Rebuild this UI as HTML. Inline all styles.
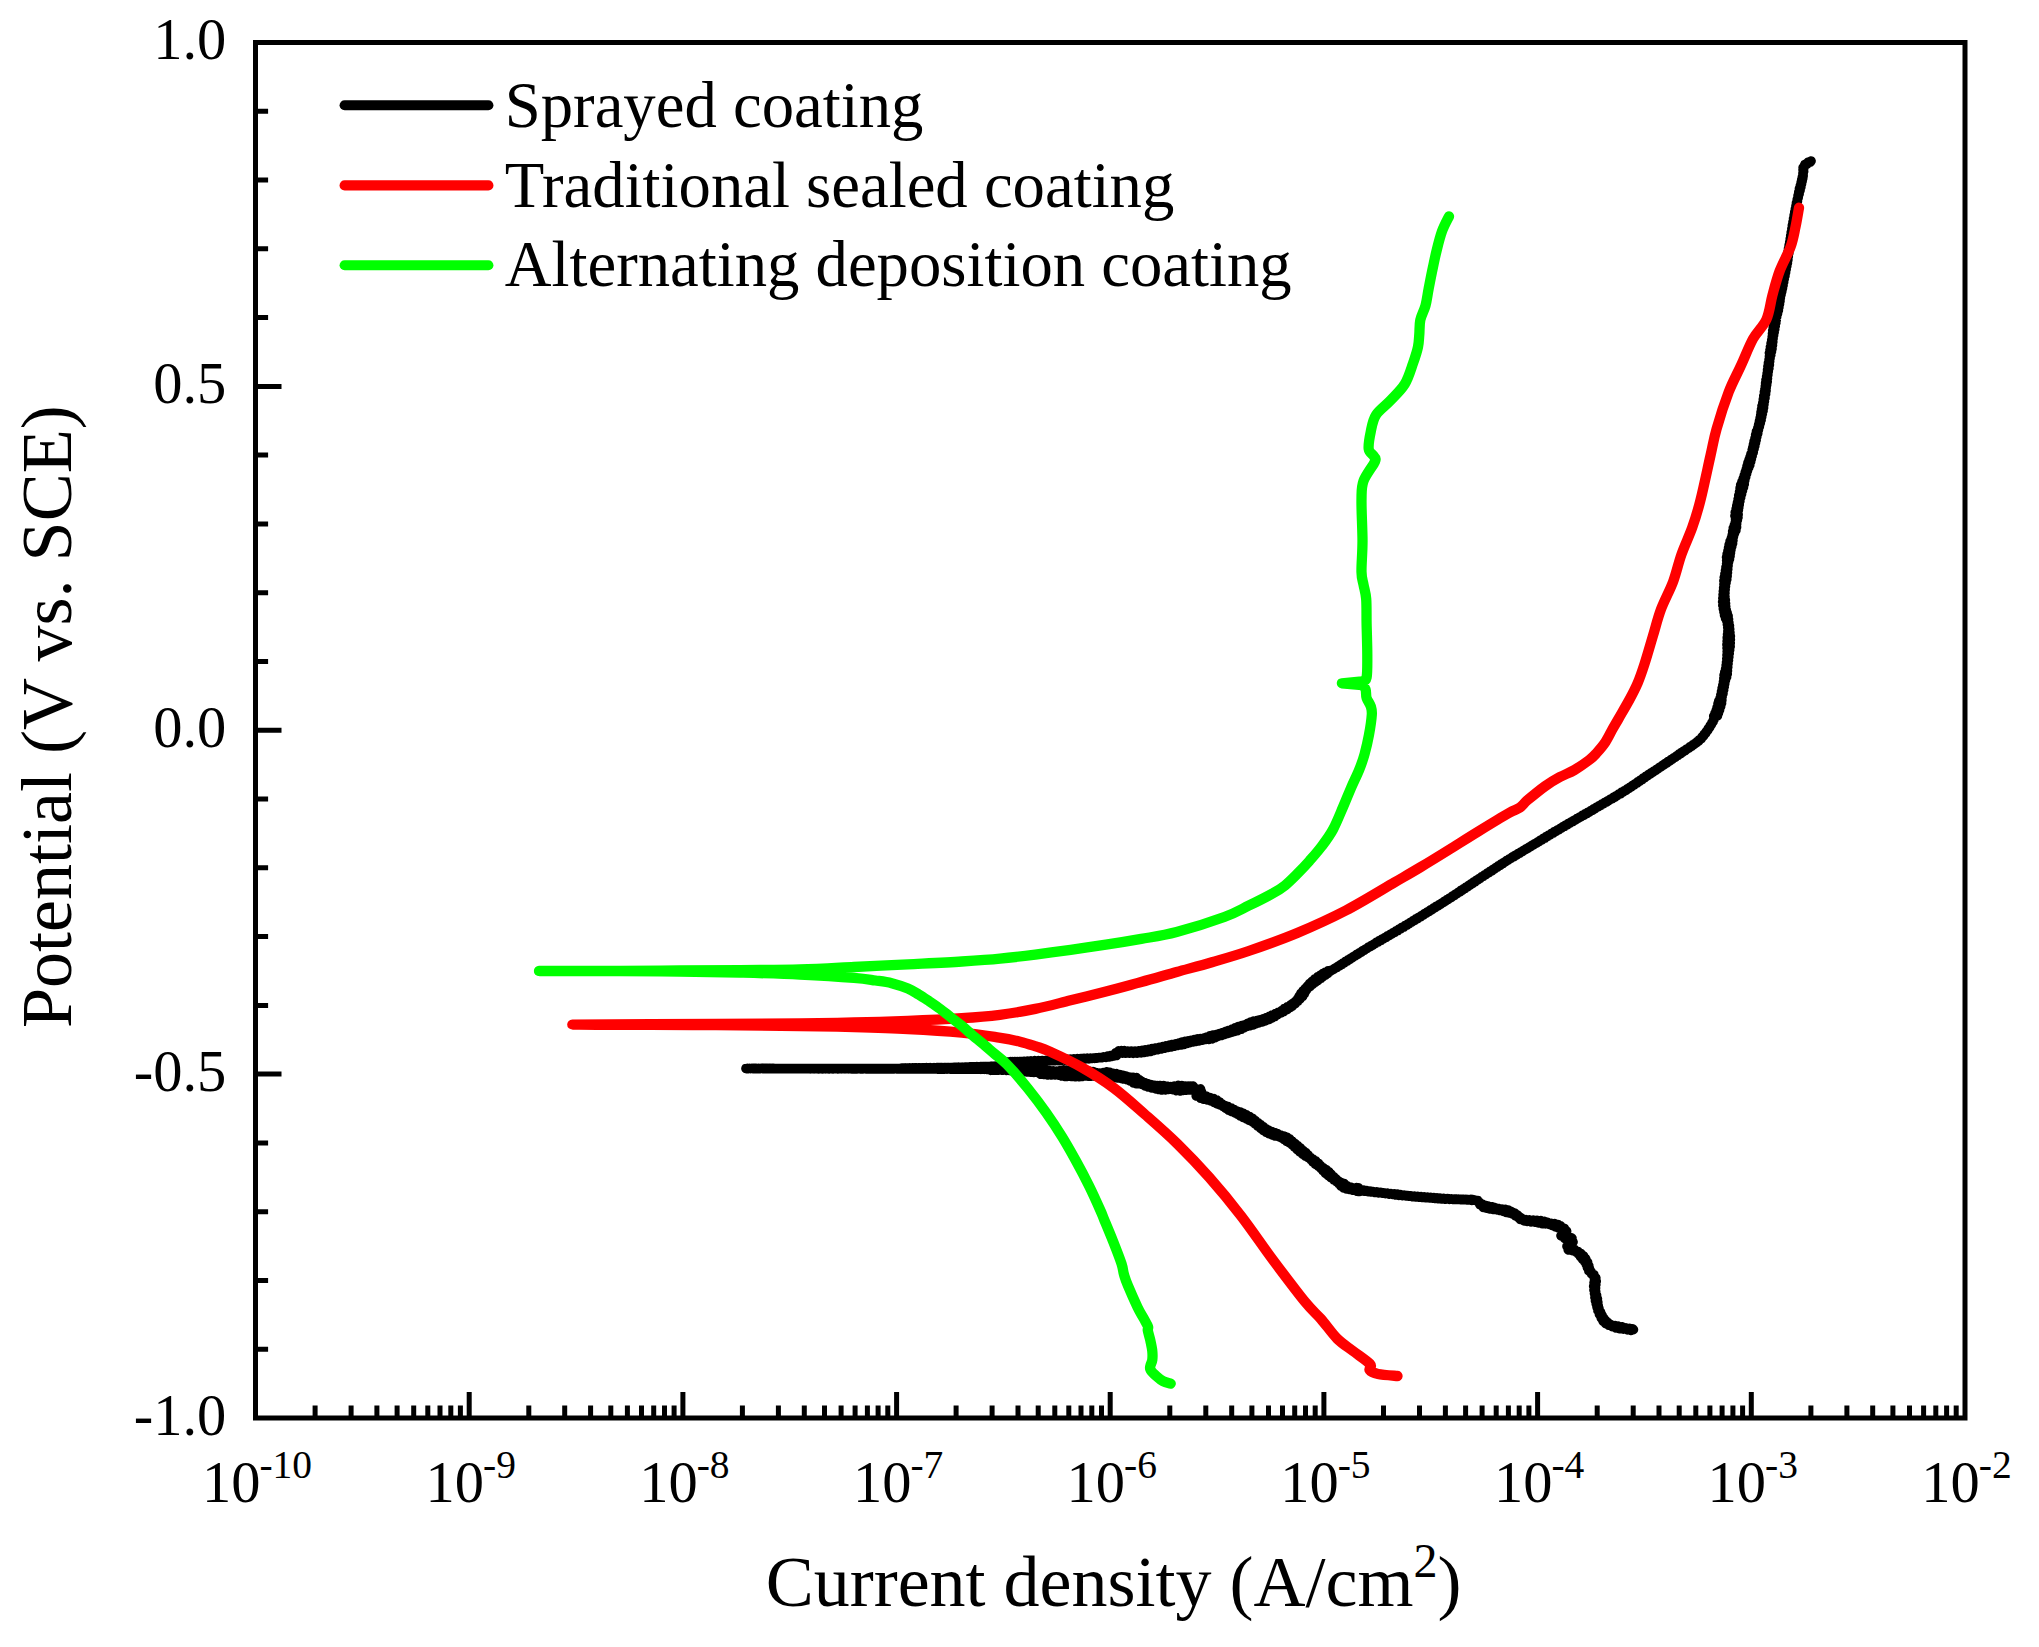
<!DOCTYPE html>
<html lang="en"><head><meta charset="utf-8"><title>Polarization curves</title>
<style>html,body{margin:0;padding:0;background:#fff}svg{display:block}text{font-family:"Liberation Serif","Times New Roman",serif;fill:#000}</style></head><body>
<svg width="2039" height="1647" viewBox="0 0 2039 1647">
<rect width="2039" height="1647" fill="#fff"/>
<g fill="none" stroke-width="10.3" stroke-linecap="round" stroke-linejoin="round">
<path stroke="#000" stroke-width="9.7" d="M1633.4 1329.6L1632.5 1328.9L1630.9 1330.3L1629.5 1328.5L1627.5 1329.7L1625.8 1327.9L1623.6 1329.1L1621.9 1326.9L1619.6 1328.7L1618.2 1326.0L1616.1 1327.9L1615.2 1325.6L1612.3 1326.6L1610.8 1324.6L1608.7 1325.0L1608.0 1322.9L1605.7 1323.5L1605.7 1320.8L1603.0 1321.0L1603.9 1318.4L1601.2 1317.8L1602.1 1315.4L1599.5 1314.5L1600.4 1312.0L1598.1 1310.8L1598.9 1308.5L1597.2 1307.3L1598.1 1305.5L1596.3 1304.1L1597.8 1302.3L1595.5 1300.9L1597.4 1298.8L1595.0 1297.4L1596.4 1295.2L1594.6 1293.6L1595.6 1291.5L1594.1 1289.9L1595.4 1288.0L1593.7 1286.2L1595.8 1284.7L1594.1 1282.7L1596.2 1281.3L1594.6 1279.7L1595.8 1278.0L1593.9 1276.9L1593.8 1274.7L1591.6 1274.1L1591.2 1271.8L1589.0 1270.9L1589.5 1268.8L1587.6 1267.7L1588.7 1265.5L1586.3 1264.5L1587.5 1262.1L1584.7 1261.5L1585.7 1258.9L1582.6 1259.2L1583.6 1256.0L1580.4 1256.5L1580.8 1253.5L1578.2 1253.7L1578.0 1251.5L1576.1 1251.8L1574.7 1249.6L1572.3 1250.6L1570.5 1248.8L1568.3 1249.9L1568.5 1247.9L1567.0 1246.2L1570.1 1245.6L1569.7 1242.4L1573.0 1241.9L1570.7 1240.5L1571.9 1238.0L1568.9 1239.8L1567.8 1236.2L1564.7 1238.4L1563.9 1235.2L1561.1 1235.9L1563.7 1234.8L1563.9 1231.8L1566.6 1231.3L1564.2 1230.8L1564.3 1228.3L1561.6 1228.9L1560.6 1225.9L1558.4 1227.8L1557.9 1224.5L1555.4 1226.9L1554.6 1223.7L1552.3 1225.5L1551.0 1223.4L1549.2 1224.2L1547.7 1222.5L1545.7 1223.8L1544.3 1221.3L1542.2 1223.7L1540.7 1220.6L1538.3 1222.9L1537.0 1220.4L1535.0 1222.1L1533.3 1220.2L1531.2 1221.7L1529.4 1219.9L1527.4 1221.3L1525.9 1219.7L1524.1 1220.8L1523.2 1219.2L1520.3 1219.5L1520.3 1217.3L1518.1 1217.2L1517.7 1215.2L1515.4 1215.6L1514.8 1213.2L1512.3 1213.9L1511.2 1211.4L1509.2 1213.0L1508.5 1210.2L1506.4 1212.4L1505.5 1209.4L1503.3 1211.5L1502.0 1209.1L1499.8 1210.4L1498.6 1208.6L1496.8 1209.8L1495.3 1207.7L1493.2 1209.4L1491.7 1206.8L1489.5 1208.8L1488.2 1206.1L1486.2 1208.1L1485.3 1205.4L1483.4 1207.4L1482.5 1204.3L1479.8 1204.5L1479.7 1202.5L1478.1 1201.9L1477.7 1200.6L1476.6 1200.7L1472.8 1199.6L1471.8 1200.3L1470.7 1199.5L1469.4 1200.0L1468.1 1199.5L1466.7 1199.8L1465.2 1199.4L1463.6 1199.7L1462.0 1199.3L1460.3 1199.6L1458.5 1199.2L1456.7 1199.5L1454.9 1199.0L1453.0 1199.4L1451.2 1198.9L1449.3 1199.3L1447.4 1198.6L1445.5 1199.2L1443.7 1198.3L1441.8 1199.0L1440.0 1198.1L1438.5 1198.7L1437.0 1197.9L1435.4 1198.4L1433.9 1197.6L1432.3 1198.1L1430.8 1197.4L1429.1 1197.9L1427.6 1197.2L1425.9 1197.7L1424.3 1196.9L1422.6 1197.5L1421.1 1196.7L1419.3 1197.2L1417.7 1196.4L1416.0 1196.9L1414.4 1196.1L1412.6 1196.6L1411.0 1195.8L1409.2 1196.2L1407.6 1195.5L1405.8 1195.9L1404.1 1195.1L1402.3 1195.6L1400.6 1194.6L1399.0 1195.3L1397.5 1194.2L1395.8 1194.9L1394.3 1193.9L1392.5 1194.5L1390.9 1193.5L1389.0 1194.1L1387.4 1193.2L1385.5 1193.6L1383.8 1192.8L1382.0 1193.1L1380.2 1192.3L1378.4 1192.8L1376.7 1191.9L1374.9 1192.4L1373.2 1191.5L1371.4 1192.0L1369.9 1191.1L1368.1 1191.6L1366.7 1190.6L1365.0 1191.2L1363.6 1190.2L1362.1 1190.9L1360.8 1189.8L1359.3 1191.5L1358.5 1187.9L1356.9 1191.1L1356.3 1187.7L1352.7 1190.2L1350.9 1187.3L1348.9 1189.3L1348.3 1186.9L1346.5 1188.9L1346.9 1185.7L1343.8 1188.0L1344.2 1183.7L1341.0 1186.1L1341.7 1182.7L1339.0 1183.8L1338.9 1181.4L1336.5 1181.7L1336.4 1179.2L1333.7 1179.8L1333.9 1176.9L1330.9 1177.6L1331.3 1174.4L1328.1 1175.4L1328.8 1171.8L1325.3 1173.2L1326.2 1169.6L1323.0 1170.7L1323.3 1167.8L1320.8 1168.2L1320.7 1165.7L1318.2 1166.1L1318.4 1163.3L1315.5 1164.2L1315.9 1161.1L1313.0 1162.0L1313.1 1159.2L1310.7 1159.6L1310.4 1157.3L1308.1 1157.5L1308.1 1155.0L1305.2 1155.9L1305.8 1152.6L1302.4 1154.0L1303.1 1150.4L1299.7 1151.8L1300.5 1148.1L1297.0 1149.5L1297.8 1145.8L1294.5 1147.1L1295.1 1143.6L1292.0 1144.8L1292.4 1141.4L1289.3 1142.8L1289.8 1139.1L1286.5 1141.2L1287.0 1137.2L1283.9 1139.4L1283.7 1136.0L1281.2 1137.7L1280.5 1135.0L1278.2 1136.6L1277.5 1133.7L1275.1 1135.9L1274.6 1132.5L1272.0 1135.0L1271.7 1131.5L1269.0 1133.7L1268.9 1130.4L1266.1 1132.2L1266.2 1128.8L1263.2 1130.3L1263.5 1126.9L1260.4 1128.2L1260.8 1124.9L1257.8 1126.0L1258.1 1122.8L1255.2 1123.8L1255.4 1120.6L1252.3 1121.8L1252.5 1118.3L1249.2 1120.3L1249.6 1116.5L1246.4 1118.9L1246.6 1114.9L1243.3 1117.5L1243.5 1113.4L1240.3 1116.0L1240.3 1112.1L1237.4 1114.2L1237.0 1111.0L1234.4 1112.7L1234.1 1109.5L1231.4 1111.4L1231.4 1108.1L1228.7 1110.2L1228.3 1106.7L1225.5 1108.1L1225.0 1105.5L1222.7 1106.2L1222.1 1104.0L1219.8 1104.9L1219.6 1102.0L1216.9 1103.8L1216.9 1100.2L1214.2 1102.4L1213.7 1098.7L1210.9 1101.0L1209.9 1097.5L1207.2 1099.9L1206.3 1096.2L1203.6 1099.1L1203.3 1095.0L1200.5 1098.1L1201.4 1094.2L1196.3 1095.9L1201.5 1091.7L1195.3 1091.9L1200.5 1089.0L1196.6 1090.8L1192.9 1086.1L1191.8 1090.0L1190.8 1086.2L1189.5 1090.0L1188.2 1086.0L1186.7 1090.2L1185.2 1086.0L1183.5 1090.4L1181.9 1085.6L1180.1 1090.8L1178.3 1085.4L1176.4 1090.6L1174.6 1086.1L1172.7 1089.6L1170.9 1086.7L1169.0 1089.3L1167.2 1086.3L1165.3 1089.8L1163.8 1085.6L1161.8 1090.0L1160.5 1085.5L1158.6 1089.4L1157.6 1085.7L1155.8 1088.8L1154.4 1085.3L1151.8 1088.0L1150.8 1084.5L1148.2 1086.9L1147.5 1083.6L1145.0 1085.8L1144.5 1082.5L1142.1 1084.5L1141.7 1081.4L1139.1 1083.7L1139.2 1079.5L1136.1 1083.6L1136.5 1077.7L1133.3 1082.8L1133.0 1077.3L1130.1 1080.9L1129.4 1077.1L1126.9 1079.7L1126.1 1076.2L1123.7 1079.0L1123.0 1075.3L1120.6 1078.3L1119.7 1074.5L1117.3 1077.9L1116.4 1073.7L1114.0 1077.7L1113.1 1073.3L1110.8 1077.8L1109.9 1072.4L1107.6 1078.3L1106.7 1071.9L1104.4 1077.8L1103.1 1072.7L1100.9 1076.4L1099.2 1073.2L1096.9 1075.9L1095.7 1072.5L1094.2 1076.1L1093.0 1071.7L1091.4 1076.1L1090.1 1071.4L1088.5 1076.1L1087.1 1071.1L1085.4 1076.0L1084.0 1070.9L1082.2 1076.4L1080.7 1070.4L1078.9 1076.7L1077.3 1070.3L1075.3 1076.6L1073.7 1070.3L1071.5 1076.5L1069.8 1070.2L1067.5 1076.4L1066.5 1070.0L1064.7 1076.3L1063.5 1069.9L1061.6 1076.0L1060.3 1070.5L1058.3 1075.1L1056.9 1071.1L1054.9 1074.8L1053.4 1070.9L1051.4 1074.9L1049.9 1070.6L1047.8 1074.8L1046.3 1070.4L1044.2 1074.5L1042.7 1070.2L1040.6 1074.2L1039.1 1070.8L1037.3 1072.3L1035.7 1070.3L1033.9 1072.3L1032.4 1070.0L1030.6 1072.1L1029.2 1069.8L1027.6 1072.0L1026.3 1069.6L1024.8 1071.7L1023.6 1069.7L1021.3 1071.0L1019.4 1069.7L1017.6 1070.7L1016.2 1069.5L1014.7 1070.5L1013.5 1069.3L1012.1 1070.4L1010.9 1069.2L1009.5 1070.3L1008.1 1069.1L1006.4 1070.3L1004.6 1069.0L1002.4 1070.2L1000.0 1068.9L998.8 1070.1L997.5 1068.9L996.2 1070.2L994.8 1068.7L993.4 1070.2L992.0 1068.6L990.5 1070.2L989.0 1069.1L987.4 1069.4L985.8 1069.1L984.2 1069.3L982.6 1069.1L980.9 1069.3L979.2 1069.1L977.5 1069.2L975.8 1069.0L974.1 1069.2L972.3 1069.0L970.6 1069.2L968.8 1069.0L967.1 1069.2L965.3 1068.9L963.6 1069.2L961.8 1068.9L960.1 1069.1L958.4 1068.9L956.6 1069.1L955.0 1068.9L953.3 1069.1L951.6 1068.9L950.0 1069.1L948.4 1068.8L947.0 1069.1L945.6 1068.8L944.3 1069.2L943.1 1068.8L941.9 1069.1L940.8 1068.8L939.7 1069.1L938.6 1068.8L937.5 1069.1L936.5 1068.7L935.4 1069.0L934.3 1068.7L933.2 1069.0L932.1 1068.7L930.9 1069.0L929.6 1068.7L928.3 1069.0L926.9 1068.7L925.4 1069.0L923.8 1068.7L922.1 1069.0L920.3 1068.6L918.3 1068.9L916.2 1068.7L914.0 1068.9L911.5 1068.7L908.9 1068.9L906.2 1068.6L903.2 1068.9L900.0 1068.6L898.9 1068.9L897.8 1068.6L896.6 1068.9L895.4 1068.6L894.2 1068.9L892.9 1068.6L891.6 1068.9L890.3 1068.6L889.0 1068.9L887.6 1068.6L886.1 1068.9L884.7 1068.6L883.2 1068.9L881.7 1068.6L880.1 1068.9L878.6 1068.6L877.0 1068.9L875.4 1068.6L873.7 1068.9L872.1 1068.6L870.4 1068.9L868.7 1068.6L866.9 1068.9L865.2 1068.6L863.4 1068.8L861.7 1068.7L859.9 1068.8L858.1 1068.6L856.2 1068.9L854.4 1068.6L852.5 1068.9L850.7 1068.6L848.8 1068.8L846.9 1068.6L845.0 1068.8L843.1 1068.6L841.2 1068.8L839.3 1068.6L837.3 1068.8L835.4 1068.6L833.5 1068.8L831.5 1068.6L829.6 1068.8L827.6 1068.6L825.7 1068.8L823.8 1068.6L821.8 1068.8L819.9 1068.6L817.9 1068.8L816.0 1068.6L814.1 1068.8L812.1 1068.5L810.2 1068.8L808.3 1068.5L806.4 1068.7L804.5 1068.6L802.6 1068.7L800.8 1068.6L798.9 1068.7L797.0 1068.6L795.2 1068.7L793.4 1068.5L791.6 1068.7L789.8 1068.5L788.0 1068.7L786.2 1068.5L784.5 1068.7L782.8 1068.5L781.1 1068.6L779.4 1068.5L777.7 1068.6L776.1 1068.5L774.5 1068.6L772.9 1068.4L771.4 1068.6L769.8 1068.4L768.3 1068.6L766.8 1068.4L765.4 1068.6L764.0 1068.4L762.6 1068.6L761.2 1068.3L759.9 1068.7L758.6 1068.3L757.3 1068.7L756.1 1068.3L754.9 1068.6L753.8 1068.3L752.7 1068.6L751.6 1068.4L750.6 1068.6L749.6 1068.4L748.6 1068.6L747.7 1068.4L746.8 1068.6L746.0 1068.5L900.9 1068.3L901.8 1068.0L902.9 1068.2L904.0 1068.1L905.2 1068.2L906.5 1068.0L907.9 1068.2L909.4 1067.9L910.9 1068.2L912.4 1067.9L914.1 1068.2L915.7 1067.8L917.4 1068.2L919.2 1067.8L921.0 1068.2L922.8 1067.8L924.6 1068.1L926.5 1067.7L928.4 1068.1L930.2 1067.7L932.1 1068.0L934.0 1067.7L935.9 1068.0L937.7 1067.6L939.6 1067.9L941.4 1067.6L943.2 1067.8L944.9 1067.6L946.7 1067.8L948.4 1067.5L950.0 1067.7L951.6 1067.5L953.3 1067.7L955.0 1067.3L956.8 1067.6L958.6 1067.2L960.4 1067.5L962.2 1067.2L964.0 1067.4L965.9 1067.1L967.8 1067.3L969.6 1066.9L971.5 1067.2L973.3 1066.8L975.2 1067.1L977.0 1066.7L978.8 1067.0L980.5 1066.6L982.3 1066.9L984.0 1066.5L985.7 1066.8L987.3 1066.5L988.9 1066.7L990.4 1066.4L991.8 1066.6L993.2 1066.3L994.5 1066.5L995.8 1066.2L997.0 1066.5L998.1 1066.1L999.1 1066.4L1000.0 1065.7L1005.0 1066.3L1003.5 1065.4L1005.8 1064.2L1006.6 1062.3L1006.3 1062.5L1010.4 1061.7L1011.4 1062.2L1012.4 1061.7L1013.5 1062.1L1014.8 1061.6L1016.1 1062.1L1017.5 1061.6L1019.0 1062.0L1020.6 1061.5L1022.2 1061.9L1023.9 1061.4L1025.6 1061.7L1027.4 1061.2L1029.2 1061.7L1031.0 1060.9L1032.9 1061.7L1034.7 1060.7L1036.6 1061.6L1038.5 1060.6L1040.4 1061.4L1042.3 1060.5L1044.2 1061.2L1046.0 1060.4L1047.8 1060.9L1049.6 1060.3L1051.3 1060.7L1053.0 1060.0L1054.6 1060.7L1056.3 1059.7L1058.0 1060.5L1059.7 1059.5L1061.4 1060.4L1063.1 1059.3L1065.0 1060.2L1066.7 1059.2L1068.5 1060.0L1070.3 1059.0L1072.1 1059.7L1073.8 1058.8L1075.6 1059.5L1077.3 1058.7L1079.1 1059.2L1080.8 1058.5L1082.5 1059.0L1084.1 1058.3L1085.8 1058.9L1087.3 1058.2L1088.9 1058.8L1090.4 1058.1L1091.8 1058.5L1093.2 1058.0L1094.6 1058.3L1095.8 1057.8L1097.0 1058.1L1099.5 1057.5L1101.8 1057.6L1103.9 1056.9L1105.9 1057.3L1107.5 1056.2L1109.2 1056.9L1110.5 1055.7L1112.0 1056.3L1113.0 1055.2L1114.2 1055.7L1115.0 1054.7L1116.7 1055.4L1115.7 1052.7L1118.1 1052.7L1118.6 1050.9L1119.8 1052.8L1121.2 1050.7L1122.6 1053.1L1124.2 1050.7L1125.8 1053.2L1127.6 1051.0L1129.4 1053.1L1131.3 1051.4L1133.2 1053.1L1135.2 1051.3L1137.2 1053.2L1139.0 1050.8L1141.1 1052.9L1142.3 1050.4L1144.2 1052.5L1145.4 1049.9L1147.5 1051.9L1148.7 1049.3L1150.9 1051.3L1152.1 1048.5L1154.3 1050.3L1155.7 1048.1L1157.8 1049.6L1159.1 1047.4L1161.3 1048.9L1162.6 1046.7L1164.7 1048.2L1165.9 1045.9L1167.9 1047.5L1169.0 1045.2L1170.9 1046.9L1172.3 1044.5L1174.5 1046.1L1175.7 1043.9L1177.8 1045.4L1178.9 1043.0L1181.0 1044.9L1181.9 1042.1L1184.0 1044.4L1184.9 1041.4L1187.0 1043.5L1188.0 1040.9L1189.9 1042.6L1191.0 1040.4L1193.0 1042.0L1194.2 1039.6L1196.2 1041.5L1197.3 1038.9L1199.3 1040.9L1200.5 1038.5L1202.4 1040.1L1203.6 1038.1L1205.5 1039.5L1206.7 1037.0L1208.8 1039.4L1209.7 1035.8L1212.0 1038.8L1212.8 1035.1L1215.1 1037.6L1216.0 1034.7L1218.3 1036.3L1219.3 1033.7L1221.7 1035.4L1222.6 1032.6L1225.1 1034.3L1225.9 1031.4L1228.4 1033.3L1229.2 1030.3L1231.7 1032.3L1232.3 1029.1L1234.7 1031.3L1235.1 1027.9L1237.5 1030.6L1238.3 1026.6L1241.2 1029.2L1241.7 1025.6L1244.0 1027.7L1244.6 1024.8L1246.8 1026.5L1247.6 1023.4L1250.4 1025.6L1250.7 1022.0L1253.1 1024.9L1253.6 1021.2L1255.9 1023.9L1256.7 1020.7L1258.9 1022.8L1259.8 1019.9L1262.2 1021.9L1263.0 1018.9L1265.7 1020.8L1266.4 1017.7L1269.2 1019.3L1269.5 1016.3L1272.0 1018.0L1272.2 1015.0L1274.8 1016.5L1275.3 1013.7L1277.7 1014.5L1278.5 1012.4L1280.8 1012.8L1281.6 1010.5L1284.0 1011.3L1284.4 1008.5L1287.1 1009.6L1287.4 1006.8L1289.9 1007.7L1290.2 1005.2L1292.5 1005.9L1292.6 1003.6L1295.1 1003.8L1295.4 1001.5L1297.6 1001.2L1297.7 999.0L1300.1 998.8L1299.3 996.1L1302.6 996.5L1300.9 993.3L1304.3 993.9L1303.0 991.0L1305.7 991.1L1305.1 988.8L1307.4 988.9L1307.4 986.1L1310.1 986.4L1309.7 983.5L1312.6 984.3L1312.1 981.3L1315.1 982.4L1314.7 979.0L1318.0 980.4L1317.9 976.7L1320.7 978.4L1320.3 975.2L1322.9 976.7L1322.7 973.7L1325.3 975.1L1325.3 972.3L1327.8 973.5L1328.1 970.8L1330.3 971.3L1331.6 970.1L1333.4 969.5L1334.8 968.2L1336.7 967.5L1338.3 966.1L1339.6 965.7L1340.6 964.7L1342.0 964.3L1343.0 963.1L1344.5 962.7L1345.5 961.5L1347.1 961.1L1348.2 959.8L1349.7 959.3L1350.9 958.2L1352.5 957.5L1353.7 956.4L1355.3 955.7L1356.6 954.5L1358.3 954.0L1359.5 952.7L1361.2 952.1L1362.5 950.9L1364.1 950.3L1365.5 949.1L1367.1 948.4L1368.4 947.3L1370.1 946.6L1371.2 945.6L1372.7 945.1L1373.9 944.0L1375.4 943.5L1376.5 942.3L1378.1 942.0L1379.2 940.8L1380.8 940.4L1381.9 939.2L1383.5 938.8L1384.7 937.6L1386.3 937.2L1387.4 936.0L1389.1 935.6L1390.3 934.4L1391.9 933.9L1393.1 932.7L1394.8 932.3L1396.0 931.0L1397.7 930.6L1398.9 929.3L1400.6 928.9L1401.8 927.5L1403.6 927.1L1404.9 925.7L1406.6 925.2L1407.7 924.1L1409.2 923.6L1410.4 922.4L1411.9 922.0L1413.1 920.7L1414.7 920.3L1415.9 919.0L1417.6 918.5L1418.8 917.3L1420.5 916.7L1421.7 915.5L1423.4 914.9L1424.6 913.6L1426.3 913.1L1427.6 911.8L1429.2 911.3L1430.5 910.0L1432.2 909.5L1433.4 908.2L1435.0 907.7L1436.2 906.4L1437.9 905.9L1439.0 904.7L1440.6 904.1L1441.8 903.0L1443.3 902.5L1444.4 901.3L1445.9 900.8L1446.9 899.7L1448.4 899.3L1449.3 898.2L1451.2 897.5L1452.5 896.1L1454.3 895.5L1455.4 894.1L1457.2 893.6L1458.3 892.2L1459.9 891.8L1461.0 890.5L1462.6 890.0L1463.6 888.8L1465.1 888.3L1466.1 887.1L1467.6 886.7L1468.6 885.4L1470.1 885.0L1471.1 883.7L1472.6 883.4L1473.6 882.0L1475.1 881.7L1476.1 880.4L1477.7 879.9L1478.8 878.7L1480.4 878.1L1481.6 876.9L1483.2 876.3L1484.4 875.1L1486.0 874.5L1487.2 873.2L1488.9 872.7L1490.0 871.4L1491.7 870.9L1492.8 869.5L1494.5 869.1L1495.6 867.7L1497.3 867.2L1498.4 865.9L1500.0 865.4L1501.2 864.1L1502.8 863.5L1504.0 862.3L1505.5 861.6L1506.8 860.5L1508.3 859.9L1509.6 858.8L1511.1 858.1L1512.4 857.0L1514.0 856.5L1515.2 855.3L1516.8 854.8L1518.0 853.6L1519.6 853.1L1520.8 852.0L1522.4 851.4L1523.7 850.4L1525.2 849.7L1526.4 848.7L1528.0 848.1L1529.2 847.0L1530.8 846.4L1532.0 845.3L1533.6 844.7L1534.9 843.7L1536.4 843.1L1537.6 842.0L1539.2 841.4L1540.4 840.2L1542.0 839.8L1543.2 838.5L1544.8 838.1L1546.0 836.8L1547.6 836.4L1548.7 835.1L1550.4 834.7L1551.5 833.4L1553.2 833.0L1554.3 831.7L1556.0 831.3L1557.2 830.1L1558.8 829.6L1560.0 828.5L1561.6 827.9L1562.8 826.8L1564.4 826.4L1565.6 825.1L1567.2 824.7L1568.4 823.5L1570.0 823.1L1571.2 821.9L1572.8 821.5L1574.0 820.3L1575.6 819.8L1576.9 818.7L1578.4 818.2L1579.6 817.1L1581.2 816.6L1582.4 815.4L1584.1 815.1L1585.2 813.8L1586.9 813.5L1588.0 812.2L1589.7 811.9L1590.8 810.6L1592.4 810.2L1593.6 809.0L1595.2 808.5L1596.4 807.4L1598.0 806.8L1599.2 805.7L1600.8 805.3L1602.0 804.0L1603.7 803.7L1604.8 802.4L1606.5 802.0L1607.7 800.8L1609.2 800.3L1610.5 799.1L1612.1 798.6L1613.3 797.5L1614.9 797.0L1616.1 795.8L1617.7 795.3L1618.9 794.0L1620.6 793.7L1621.7 792.3L1623.4 791.9L1624.5 790.6L1626.2 790.2L1627.2 788.9L1628.8 788.4L1629.9 787.2L1631.5 786.6L1632.6 785.5L1634.1 784.8L1635.3 783.7L1636.8 783.1L1637.9 781.9L1639.5 781.3L1640.6 780.0L1642.1 779.5L1643.2 778.2L1644.8 777.7L1645.9 776.4L1647.5 775.8L1648.6 774.6L1650.1 774.0L1651.3 772.8L1652.8 772.2L1654.0 771.1L1655.5 770.4L1656.7 769.3L1658.2 768.6L1659.4 767.4L1661.0 766.7L1662.3 765.5L1663.9 764.8L1665.2 763.5L1666.8 762.9L1668.0 761.6L1669.7 761.0L1670.9 759.7L1672.5 759.0L1673.8 757.8L1675.3 757.1L1676.5 756.0L1677.9 755.4L1679.0 754.2L1680.5 753.7L1681.4 752.6L1682.8 752.1L1683.7 751.1L1684.9 750.7L1686.6 749.1L1688.6 748.2L1690.0 746.9L1691.6 746.1L1692.8 745.0L1694.1 744.4L1695.2 743.3L1696.4 742.7L1697.3 741.6L1698.6 741.0L1699.4 739.8L1701.1 738.7L1702.1 737.0L1703.6 735.9L1704.3 734.3L1705.7 733.1L1706.4 731.5L1707.7 730.3L1708.3 728.7L1709.6 727.4L1710.3 725.7L1711.4 724.4L1712.0 722.8L1713.1 721.4L1713.6 719.6L1714.8 718.1L1713.8 716.1L1717.4 716.0L1715.0 713.4L1718.4 713.1L1716.2 710.5L1719.5 709.9L1717.1 707.4L1720.6 706.5L1718.0 703.8L1721.5 703.2L1718.8 701.1L1721.8 700.1L1720.1 698.1L1722.0 696.8L1721.0 694.8L1722.8 693.4L1721.6 691.4L1723.6 690.1L1722.2 688.1L1724.2 686.8L1722.9 685.0L1724.6 683.8L1723.6 681.7L1725.4 680.3L1723.9 678.3L1726.5 677.2L1724.1 675.1L1727.2 674.0L1724.8 672.0L1727.4 670.7L1725.7 668.7L1727.7 667.1L1726.2 665.3L1728.0 663.9L1726.7 662.1L1728.3 660.5L1727.0 658.6L1728.8 657.0L1727.0 655.1L1729.2 653.5L1727.2 651.6L1729.6 650.0L1727.1 648.1L1730.1 646.5L1727.0 644.6L1730.2 643.1L1727.2 641.2L1730.3 639.6L1727.3 637.7L1730.3 636.2L1727.6 634.3L1729.9 632.7L1727.9 631.0L1729.7 629.2L1727.8 627.6L1729.4 625.7L1727.6 624.4L1728.8 622.5L1726.9 621.3L1728.5 619.3L1725.6 618.3L1728.1 616.0L1724.6 615.2L1727.1 612.9L1724.0 611.9L1726.2 609.8L1723.4 608.7L1725.7 606.7L1722.9 605.4L1725.5 603.4L1722.7 601.8L1725.3 600.0L1722.9 598.3L1724.9 596.6L1723.3 594.8L1724.8 593.1L1723.5 591.3L1725.0 589.7L1723.8 587.9L1725.3 586.3L1724.0 584.4L1726.0 582.9L1723.9 580.9L1726.7 579.5L1724.3 577.4L1727.1 576.1L1724.9 574.0L1727.4 572.6L1725.5 570.6L1727.7 569.2L1726.2 567.2L1727.9 565.7L1726.8 563.8L1728.5 562.4L1726.7 560.5L1729.4 559.3L1726.6 557.3L1730.0 556.1L1727.2 554.1L1730.4 552.9L1728.0 550.9L1730.9 549.8L1728.6 547.8L1731.7 546.6L1729.2 544.5L1732.5 543.5L1730.1 541.3L1732.9 540.3L1731.4 538.1L1733.3 536.8L1732.4 534.8L1734.4 533.5L1732.7 531.3L1735.8 530.4L1733.3 528.0L1736.5 527.2L1734.4 525.1L1736.6 524.1L1735.4 522.5L1737.1 520.6L1735.5 518.8L1737.9 517.4L1735.0 515.9L1738.1 514.5L1735.3 512.4L1738.3 510.4L1736.2 508.7L1738.7 507.7L1736.8 505.8L1739.2 504.6L1737.5 502.5L1739.8 501.2L1738.2 499.0L1740.6 497.7L1738.8 495.4L1741.5 494.1L1739.6 491.8L1742.4 490.6L1740.1 488.3L1743.4 487.4L1740.7 485.0L1744.2 484.1L1742.0 481.6L1744.7 480.6L1743.3 478.3L1745.6 477.2L1744.4 475.1L1746.5 474.0L1745.5 471.9L1747.4 470.8L1746.4 468.9L1748.6 467.9L1747.1 465.9L1749.7 465.2L1748.0 462.7L1750.6 461.7L1749.1 459.7L1751.3 458.9L1750.1 456.9L1752.1 456.0L1751.1 453.9L1753.1 452.4L1752.3 449.8L1754.0 448.9L1752.9 447.2L1754.7 446.2L1753.5 444.4L1755.4 443.2L1754.3 441.3L1756.0 440.1L1755.1 438.1L1756.7 436.7L1755.8 434.7L1757.6 433.4L1756.6 431.3L1758.4 429.9L1757.9 428.0L1759.3 426.6L1758.7 424.7L1760.2 423.2L1759.5 421.4L1761.0 420.0L1760.2 418.3L1761.6 416.9L1760.8 415.2L1762.2 413.9L1761.2 412.2L1763.0 410.9L1761.6 409.1L1763.5 407.8L1762.2 406.0L1763.8 404.6L1762.9 402.8L1764.3 401.3L1763.4 399.4L1764.9 397.8L1763.9 395.8L1765.5 394.1L1764.5 391.9L1765.9 390.7L1765.0 389.1L1766.1 387.8L1765.4 386.2L1766.6 384.8L1765.7 383.1L1767.1 381.6L1766.1 379.9L1767.4 378.4L1766.7 376.6L1767.8 375.0L1767.2 373.2L1768.2 371.6L1767.6 369.8L1768.8 368.3L1768.0 366.4L1769.3 364.8L1768.5 363.0L1769.6 361.4L1769.1 359.7L1770.0 358.1L1769.5 356.4L1770.7 354.9L1769.6 353.1L1771.4 351.8L1770.0 350.0L1771.8 348.7L1770.6 346.8L1772.3 345.3L1771.2 343.4L1772.7 341.9L1771.8 340.1L1773.0 338.6L1772.3 336.9L1773.5 335.4L1772.6 333.7L1774.0 332.3L1772.9 330.5L1774.5 329.2L1773.3 327.4L1775.2 326.1L1773.7 324.3L1775.8 323.0L1774.4 321.2L1776.1 319.9L1775.3 318.2L1776.6 316.8L1776.0 315.1L1777.4 313.7L1776.3 311.9L1778.3 310.6L1776.9 308.7L1778.8 307.4L1777.6 305.5L1779.3 304.2L1778.3 302.4L1779.9 301.1L1779.2 299.3L1780.3 297.9L1779.8 296.1L1781.0 294.7L1780.5 293.0L1781.7 291.6L1781.1 289.8L1782.4 288.4L1781.8 286.6L1783.0 285.3L1782.5 283.5L1783.6 282.1L1783.2 280.4L1784.2 278.9L1783.8 277.2L1784.9 275.8L1784.4 274.0L1785.5 272.6L1784.9 270.8L1786.1 269.4L1785.5 267.6L1786.7 266.2L1785.9 264.4L1787.3 263.0L1786.4 261.2L1787.8 259.8L1787.1 258.0L1788.2 256.6L1787.7 254.9L1788.7 253.4L1788.2 251.7L1789.3 250.2L1788.6 248.5L1790.0 247.0L1789.2 245.3L1790.5 243.8L1789.8 242.1L1791.0 240.7L1790.3 238.9L1791.5 237.4L1790.8 235.6L1792.0 234.1L1791.3 232.2L1792.5 230.7L1791.9 228.8L1792.9 227.2L1792.4 225.4L1793.4 223.8L1793.0 222.0L1794.0 220.4L1793.6 218.6L1794.5 217.1L1794.2 215.3L1795.0 213.8L1794.8 212.1L1795.6 210.6L1795.4 209.0L1796.2 207.5L1796.0 205.9L1796.8 204.5L1796.5 203.0L1797.4 201.2L1797.3 199.3L1798.2 197.5L1798.1 195.6L1799.1 194.0L1798.8 192.0L1800.0 190.5L1799.5 188.6L1800.8 187.2L1800.4 185.4L1801.5 184.0L1801.2 182.3L1802.1 181.1L1801.8 179.6L1802.7 178.4L1802.4 177.1L1803.1 176.1L1803.0 173.3L1803.6 171.4L1803.1 169.8L1803.6 168.7L1803.2 167.5L1804.3 166.6L1804.8 164.6L1807.0 164.1L1808.1 162.1L1810.2 162.1L1811.0 161.0"/>
<path stroke="#f00" d="M1397.5 1376.0C1394.2 1375.7 1382.6 1375.0 1378.0 1374.0C1373.4 1373.0 1371.0 1371.7 1369.7 1370.0C1368.4 1368.3 1372.8 1367.2 1370.0 1364.0C1367.2 1360.8 1358.5 1355.2 1353.0 1351.0C1347.5 1346.8 1342.3 1343.8 1337.0 1338.5C1331.7 1333.2 1326.3 1325.1 1321.0 1319.0C1315.7 1312.9 1313.0 1311.6 1305.0 1301.8C1297.0 1292.0 1283.7 1274.3 1273.0 1260.0C1262.3 1245.7 1251.6 1229.5 1241.0 1215.8C1230.4 1202.0 1220.0 1189.5 1209.4 1177.5C1198.8 1165.5 1188.1 1154.4 1177.5 1144.0C1166.9 1133.6 1156.2 1124.3 1145.6 1115.0C1135.0 1105.7 1124.4 1095.9 1113.8 1088.0C1103.2 1080.1 1092.6 1073.6 1082.0 1067.5C1071.4 1061.4 1057.7 1055.1 1050.0 1051.6C1042.3 1048.1 1040.8 1048.1 1035.8 1046.4C1030.8 1044.8 1026.1 1043.2 1020.0 1041.7C1013.9 1040.2 1008.7 1039.1 999.0 1037.6C989.3 1036.1 977.0 1034.0 961.8 1032.6C946.6 1031.2 925.9 1029.9 907.9 1029.0C889.9 1028.1 872.0 1027.6 854.0 1027.1C836.0 1026.6 823.0 1026.3 800.0 1026.0C777.0 1025.7 754.0 1025.4 716.0 1025.2C678.0 1025.0 572.3 1024.8 572.3 1024.6C572.3 1024.4 678.0 1024.2 716.0 1024.0C754.0 1023.8 777.0 1023.8 800.0 1023.5C823.0 1023.2 836.0 1022.9 854.0 1022.5C872.0 1022.1 889.9 1021.6 907.9 1020.9C925.9 1020.2 946.4 1019.2 961.8 1018.2C977.1 1017.2 987.8 1016.3 1000.0 1014.8C1012.2 1013.2 1023.5 1011.3 1035.3 1008.9C1047.1 1006.5 1058.8 1003.2 1070.6 1000.3C1082.4 997.4 1094.1 994.5 1105.9 991.5C1117.7 988.5 1129.4 985.2 1141.2 982.0C1153.0 978.8 1164.8 975.3 1176.6 972.0C1188.4 968.7 1199.9 965.7 1211.9 962.2C1223.9 958.7 1234.4 955.9 1248.6 951.0C1262.8 946.1 1281.0 939.8 1297.2 933.0C1313.4 926.2 1329.6 918.9 1345.8 910.5C1362.0 902.1 1381.9 889.7 1394.3 882.5C1406.7 875.3 1410.8 873.0 1420.0 867.5C1429.2 862.0 1439.6 855.6 1449.4 849.5C1459.2 843.4 1469.1 837.1 1478.9 831.1C1488.7 825.1 1501.5 817.3 1508.3 813.4C1515.1 809.5 1516.8 809.7 1520.0 807.5C1523.2 805.3 1523.2 803.8 1527.4 800.2C1531.6 796.7 1539.6 790.1 1545.0 786.2C1550.4 782.4 1554.9 779.8 1559.8 777.1C1564.7 774.4 1569.6 772.9 1574.5 770.0C1579.4 767.1 1585.5 762.8 1589.2 760.0C1592.9 757.2 1593.8 756.1 1596.5 753.1C1599.2 750.1 1602.7 746.2 1605.4 742.1C1608.1 738.0 1610.5 732.7 1612.7 728.8C1614.9 724.9 1615.8 723.5 1618.6 718.6C1621.4 713.7 1626.3 705.4 1629.5 699.5C1632.7 693.6 1635.2 688.9 1637.7 683.0C1640.2 677.1 1642.0 671.7 1644.5 664.0C1647.0 656.3 1650.0 645.7 1652.7 636.6C1655.5 627.5 1657.6 618.4 1661.0 609.3C1664.4 600.2 1669.6 591.1 1673.0 582.0C1676.4 572.9 1678.2 563.7 1681.4 554.6C1684.6 545.5 1689.1 536.4 1692.3 527.3C1695.5 518.2 1697.5 512.0 1700.5 500.0C1703.5 488.0 1707.8 467.4 1710.5 455.5C1713.2 443.6 1713.6 439.4 1716.6 428.8C1719.6 418.2 1724.7 402.5 1728.7 392.0C1732.8 381.5 1736.9 374.5 1740.9 365.6C1745.0 356.8 1748.8 346.6 1753.0 338.9C1757.2 331.2 1763.2 326.8 1766.4 319.5C1769.7 312.2 1770.3 303.1 1772.5 295.0C1774.7 286.9 1776.7 279.0 1779.7 270.9C1782.7 262.8 1788.1 253.9 1790.7 246.6C1793.3 239.3 1794.1 233.5 1795.5 227.0C1796.9 220.5 1798.4 210.9 1799.0 207.7"/>
<path stroke="#0f0" d="M1170.7 1383.6C1169.4 1383.2 1165.4 1382.4 1163.0 1381.2C1160.6 1380.0 1158.6 1378.2 1156.5 1376.3C1154.4 1374.4 1151.5 1371.5 1150.5 1369.7C1149.5 1367.9 1150.2 1367.0 1150.5 1365.4C1150.8 1363.8 1152.0 1362.3 1152.3 1359.9C1152.6 1357.5 1152.6 1354.4 1152.3 1351.1C1152.0 1347.8 1151.0 1343.7 1150.3 1340.2C1149.5 1336.8 1148.2 1332.7 1147.8 1330.4C1147.4 1328.1 1148.7 1328.6 1148.0 1326.6C1147.3 1324.6 1145.4 1321.6 1143.7 1318.4C1142.0 1315.2 1140.2 1312.9 1137.6 1307.4C1135.0 1301.9 1130.2 1291.1 1127.9 1285.6C1125.6 1280.1 1125.1 1278.2 1124.0 1274.6C1122.9 1270.9 1123.3 1269.2 1121.5 1263.7C1119.7 1258.2 1116.2 1249.2 1113.3 1241.9C1110.4 1234.6 1106.5 1225.3 1104.3 1220.0C1102.1 1214.7 1102.8 1215.7 1100.2 1210.0C1097.7 1204.3 1093.0 1193.8 1089.0 1185.7C1085.0 1177.6 1080.8 1169.5 1076.3 1161.4C1071.8 1153.3 1067.3 1145.2 1062.3 1137.1C1057.3 1129.0 1052.0 1121.0 1046.3 1112.9C1040.6 1104.8 1034.5 1096.7 1028.0 1088.6C1021.5 1080.5 1012.6 1070.3 1007.0 1064.5C1001.4 1058.7 998.4 1057.1 994.2 1053.5C990.0 1049.9 985.6 1046.0 982.0 1043.0C978.4 1040.0 976.0 1038.2 972.6 1035.3C969.2 1032.4 965.4 1028.8 961.8 1025.8C958.2 1022.8 954.6 1020.3 951.0 1017.5C947.4 1014.7 943.9 1011.7 940.3 1009.0C936.7 1006.3 933.1 1003.9 929.5 1001.5C925.9 999.1 922.3 996.6 918.7 994.5C915.1 992.4 912.4 990.5 907.9 988.6C903.4 986.7 897.1 984.6 891.7 983.2C886.3 981.9 881.8 981.4 875.5 980.5C869.2 979.6 866.6 978.8 854.0 977.8C841.4 976.8 819.0 975.4 800.0 974.5C781.0 973.6 760.0 973.1 740.0 972.6C720.0 972.1 700.0 971.8 680.0 971.6C660.0 971.4 643.5 971.3 620.0 971.2C596.5 971.1 539.0 971.1 539.0 971.0C539.0 970.9 596.5 970.9 620.0 970.8C643.5 970.7 660.0 970.6 680.0 970.5C700.0 970.4 720.0 970.3 740.0 970.1C760.0 969.9 781.0 970.0 800.0 969.5C819.0 969.0 836.0 967.9 854.0 967.0C872.0 966.1 889.9 965.2 907.9 964.3C925.9 963.4 946.4 962.5 961.8 961.5C977.1 960.5 987.8 959.8 1000.0 958.6C1012.2 957.5 1023.5 956.1 1035.3 954.6C1047.1 953.1 1058.8 951.4 1070.6 949.8C1082.4 948.1 1094.1 946.5 1105.9 944.7C1117.7 942.9 1129.4 941.0 1141.2 938.9C1153.0 936.8 1162.8 935.6 1176.6 932.0C1190.4 928.4 1212.3 921.4 1224.3 917.0C1236.3 912.6 1240.5 909.7 1248.6 905.7C1256.7 901.8 1266.8 896.7 1272.9 893.3C1279.0 889.9 1281.0 888.6 1285.0 885.4C1289.0 882.2 1293.2 877.9 1297.2 873.9C1301.2 869.9 1305.2 865.7 1309.3 861.1C1313.3 856.5 1317.5 851.8 1321.5 846.5C1325.5 841.2 1329.4 836.2 1333.0 829.5C1336.6 822.8 1340.3 813.3 1343.3 806.4C1346.3 799.5 1348.3 794.3 1350.9 788.2C1353.5 782.1 1356.8 775.7 1359.1 770.0C1361.4 764.3 1363.0 759.8 1364.6 754.0C1366.2 748.2 1367.7 741.8 1368.9 735.3C1370.1 728.8 1371.5 719.5 1371.8 714.7C1372.1 709.9 1371.7 709.2 1370.8 706.4C1369.9 703.6 1367.5 700.8 1366.6 698.0C1365.7 695.2 1366.4 691.7 1365.6 689.5C1364.8 687.3 1362.6 685.8 1362.0 685.0L1341.9 683.3L1362.0 681.5C1362.8 680.8 1365.7 682.0 1366.6 677.5C1367.5 673.0 1367.3 663.7 1367.3 654.8C1367.3 645.9 1366.8 633.2 1366.6 623.9C1366.4 614.6 1366.7 605.5 1366.2 599.0C1365.7 592.5 1364.3 589.1 1363.5 584.6C1362.7 580.1 1361.7 579.3 1361.5 572.0C1361.3 564.7 1362.5 553.0 1362.5 541.0C1362.5 529.0 1361.3 510.0 1361.5 500.0C1361.7 490.0 1361.2 487.4 1363.5 481.0C1365.8 474.6 1373.3 465.6 1375.0 461.5C1376.7 457.4 1375.0 458.4 1373.9 456.3C1372.9 454.2 1369.2 453.1 1368.7 449.0C1368.2 444.9 1369.6 437.2 1370.8 431.5C1372.0 425.8 1372.7 420.1 1376.0 415.0C1379.3 409.9 1385.6 405.8 1390.4 400.6C1395.2 395.4 1401.0 390.2 1404.8 384.0C1408.6 377.8 1410.8 369.6 1413.0 363.4C1415.2 357.2 1417.0 351.7 1418.0 346.9C1419.0 342.1 1418.9 339.0 1419.3 334.5C1419.7 330.0 1419.3 324.8 1420.3 320.0C1421.3 315.2 1424.1 310.8 1425.5 305.6C1426.9 300.4 1427.4 295.2 1428.6 289.0C1429.8 282.8 1431.3 274.9 1432.7 268.4C1434.1 261.9 1435.2 256.1 1436.8 249.9C1438.3 243.7 1440.0 236.9 1442.0 231.3C1444.0 225.7 1447.8 218.9 1449.0 216.4"/>
</g>
<rect x="255.5" y="42.5" width="1709.5" height="1375.5" fill="none" stroke="#000" stroke-width="5.0"/>
<path d="M255.5 111.3h12.6M255.5 180.1h12.6M255.5 248.8h12.6M255.5 317.6h12.6M255.5 386.4h26.0M255.5 455.1h12.6M255.5 523.9h12.6M255.5 592.7h12.6M255.5 661.5h12.6M255.5 730.2h26.0M255.5 799.0h12.6M255.5 867.8h12.6M255.5 936.6h12.6M255.5 1005.4h12.6M255.5 1074.1h26.0M255.5 1142.9h12.6M255.5 1211.7h12.6M255.5 1280.5h12.6M255.5 1349.2h12.6M315.1 1418.0v-12.6M351.1 1418.0v-12.6M376.9 1418.0v-12.6M397.1 1418.0v-12.6M413.7 1418.0v-12.6M427.8 1418.0v-12.6M440.0 1418.0v-12.6M450.8 1418.0v-12.6M460.4 1418.0v-12.6M469.2 1418.0v-26.0M528.8 1418.0v-12.6M564.7 1418.0v-12.6M590.6 1418.0v-12.6M610.8 1418.0v-12.6M627.4 1418.0v-12.6M641.5 1418.0v-12.6M653.7 1418.0v-12.6M664.5 1418.0v-12.6M674.1 1418.0v-12.6M682.9 1418.0v-26.0M742.4 1418.0v-12.6M778.4 1418.0v-12.6M804.3 1418.0v-12.6M824.5 1418.0v-12.6M841.1 1418.0v-12.6M855.1 1418.0v-12.6M867.4 1418.0v-12.6M878.1 1418.0v-12.6M887.8 1418.0v-12.6M896.6 1418.0v-26.0M956.1 1418.0v-12.6M992.1 1418.0v-12.6M1018.0 1418.0v-12.6M1038.2 1418.0v-12.6M1054.8 1418.0v-12.6M1068.8 1418.0v-12.6M1081.0 1418.0v-12.6M1091.8 1418.0v-12.6M1101.5 1418.0v-12.6M1110.2 1418.0v-26.0M1169.8 1418.0v-12.6M1205.8 1418.0v-12.6M1231.7 1418.0v-12.6M1251.9 1418.0v-12.6M1268.5 1418.0v-12.6M1282.5 1418.0v-12.6M1294.7 1418.0v-12.6M1305.5 1418.0v-12.6M1315.2 1418.0v-12.6M1323.9 1418.0v-26.0M1383.5 1418.0v-12.6M1419.5 1418.0v-12.6M1445.4 1418.0v-12.6M1465.6 1418.0v-12.6M1482.1 1418.0v-12.6M1496.2 1418.0v-12.6M1508.4 1418.0v-12.6M1519.2 1418.0v-12.6M1528.9 1418.0v-12.6M1537.6 1418.0v-26.0M1597.2 1418.0v-12.6M1633.2 1418.0v-12.6M1659.0 1418.0v-12.6M1679.2 1418.0v-12.6M1695.8 1418.0v-12.6M1709.9 1418.0v-12.6M1722.1 1418.0v-12.6M1732.9 1418.0v-12.6M1742.6 1418.0v-12.6M1751.3 1418.0v-26.0M1810.9 1418.0v-12.6M1846.9 1418.0v-12.6M1872.7 1418.0v-12.6M1892.9 1418.0v-12.6M1909.5 1418.0v-12.6M1923.6 1418.0v-12.6M1935.8 1418.0v-12.6M1946.6 1418.0v-12.6M1956.2 1418.0v-12.6" fill="none" stroke="#000" stroke-width="5.0"/>
<text x="226.3" y="59.3" font-size="58.5" text-anchor="end">1.0</text>
<text x="226.3" y="403.2" font-size="58.5" text-anchor="end">0.5</text>
<text x="226.3" y="747.0" font-size="58.5" text-anchor="end">0.0</text>
<text x="226.3" y="1090.9" font-size="58.5" text-anchor="end">-0.5</text>
<text x="226.3" y="1434.8" font-size="58.5" text-anchor="end">-1.0</text>
<text x="257.0" y="1501.8" font-size="58.5" text-anchor="middle">10<tspan font-size="39.5" dx="-1" dy="-24.3">-10</tspan></text>
<text x="470.7" y="1501.8" font-size="58.5" text-anchor="middle">10<tspan font-size="39.5" dx="-1" dy="-24.3">-9</tspan></text>
<text x="684.4" y="1501.8" font-size="58.5" text-anchor="middle">10<tspan font-size="39.5" dx="-1" dy="-24.3">-8</tspan></text>
<text x="898.1" y="1501.8" font-size="58.5" text-anchor="middle">10<tspan font-size="39.5" dx="-1" dy="-24.3">-7</tspan></text>
<text x="1111.8" y="1501.8" font-size="58.5" text-anchor="middle">10<tspan font-size="39.5" dx="-1" dy="-24.3">-6</tspan></text>
<text x="1325.4" y="1501.8" font-size="58.5" text-anchor="middle">10<tspan font-size="39.5" dx="-1" dy="-24.3">-5</tspan></text>
<text x="1539.1" y="1501.8" font-size="58.5" text-anchor="middle">10<tspan font-size="39.5" dx="-1" dy="-24.3">-4</tspan></text>
<text x="1752.8" y="1501.8" font-size="58.5" text-anchor="middle">10<tspan font-size="39.5" dx="-1" dy="-24.3">-3</tspan></text>
<text x="1966.5" y="1501.8" font-size="58.5" text-anchor="middle">10<tspan font-size="39.5" dx="-1" dy="-24.3">-2</tspan></text>
<text x="1113.6" y="1605.6" font-size="72.0" text-anchor="middle">Current density (A/cm<tspan font-size="48" dy="-28.7">2</tspan><tspan dy="28.7">)</tspan></text>
<text transform="translate(70.5 716.7) rotate(-90)" font-size="72.0" text-anchor="middle">Potential (V vs. SCE)</text>
<path d="M344.6 105.3H488.4" stroke="#000" stroke-width="10.1" stroke-linecap="round" fill="none"/>
<text x="504.8" y="127.4" font-size="64.7">Sprayed coating</text>
<path d="M344.6 185.4H488.4" stroke="#f00" stroke-width="10.1" stroke-linecap="round" fill="none"/>
<text x="504.8" y="206.8" font-size="64.7">Traditional sealed coating</text>
<path d="M344.6 265.2H488.4" stroke="#0f0" stroke-width="10.1" stroke-linecap="round" fill="none"/>
<text x="504.8" y="285.9" font-size="64.7">Alternating deposition coating</text>
</svg></body></html>
